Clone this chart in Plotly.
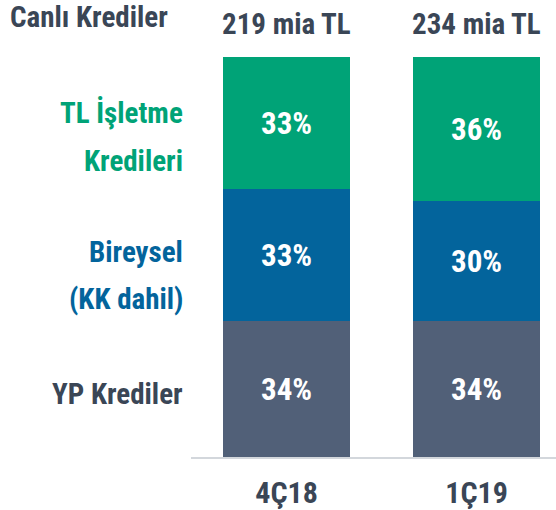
import plotly.graph_objects as go

periods = ["4Ç18", "1Ç19"]
totals = ["219 mia TL", "234 mia TL"]
yp = [34, 34]
bireysel = [33, 30]
tl_isletme = [33, 36]

series_names = ["YP Krediler", "Bireysel (KK dahil)", "TL İşletme Kredileri"]
series_values = [yp, bireysel, tl_isletme]
colors = ["#516078", "#03649C", "#00A377"]

FONT = "Liberation Sans Narrow, Arial Narrow, Roboto Condensed, Liberation Sans, sans-serif"
DARK = "#3A4656"

fig = go.Figure()
for name, vals, col in zip(series_names, series_values, colors):
    fig.add_trace(go.Bar(
        x=periods, y=vals, name=name,
        marker=dict(color=col, line=dict(width=0)),
        width=0.668,
        text=[f"{v}%" for v in vals],
        textposition="inside", insidetextanchor="middle",
        textfont=dict(color="white", size=31, family=FONT, weight="bold"),
        hoverinfo="skip",
    ))

annotations = []
# title
annotations.append(dict(text="Canlı Krediler", xref="paper", yref="paper",
                        x=-0.502, y=(457 - 17) / 400, xanchor="left", yanchor="middle",
                        showarrow=False, font=dict(size=29, color=DARK, family=FONT, weight="bold")))
# totals
for p, t in zip(periods, totals):
    annotations.append(dict(text=t, x=p, xref="x", yref="paper", y=(457 - 24) / 400,
                            xanchor="center", yanchor="middle", showarrow=False,
                            font=dict(size=29, color=DARK, family=FONT, weight="bold")))
# left labels
left_labels = [
    ("TL İşletme", 113, colors[2]), ("Kredileri", 161, colors[2]),
    ("Bireysel", 252, colors[1]), ("(KK dahil)", 299, colors[1]),
    ("YP Krediler", 394, DARK),
]
for txt, ypx, col in left_labels:
    annotations.append(dict(text=txt, xref="paper", yref="paper", x=-0.016,
                            y=(457 - ypx) / 400, xanchor="right", yanchor="middle",
                            showarrow=False, font=dict(size=29, color=col, family=FONT, weight="bold")))

fig.update_layout(
    width=556, height=510,
    barmode="stack",
    showlegend=False,
    plot_bgcolor="white", paper_bgcolor="white",
    margin=dict(l=191, r=0, t=57, b=53),
    xaxis=dict(range=[-0.503, 1.418], showline=True, linecolor="#D3D7DC", linewidth=2,
               ticks="", showgrid=False, zeroline=False, ticklabelstandoff=8,
               tickfont=dict(size=30, color=DARK, family=FONT, weight="bold")),
    yaxis=dict(range=[0, 100], visible=False, showgrid=False, zeroline=False),
    annotations=annotations,
    font=dict(family=FONT),
)

fig.write_html("out.html", config={"displayModeBar": False},
               post_script="document.body.style.margin='0';")
